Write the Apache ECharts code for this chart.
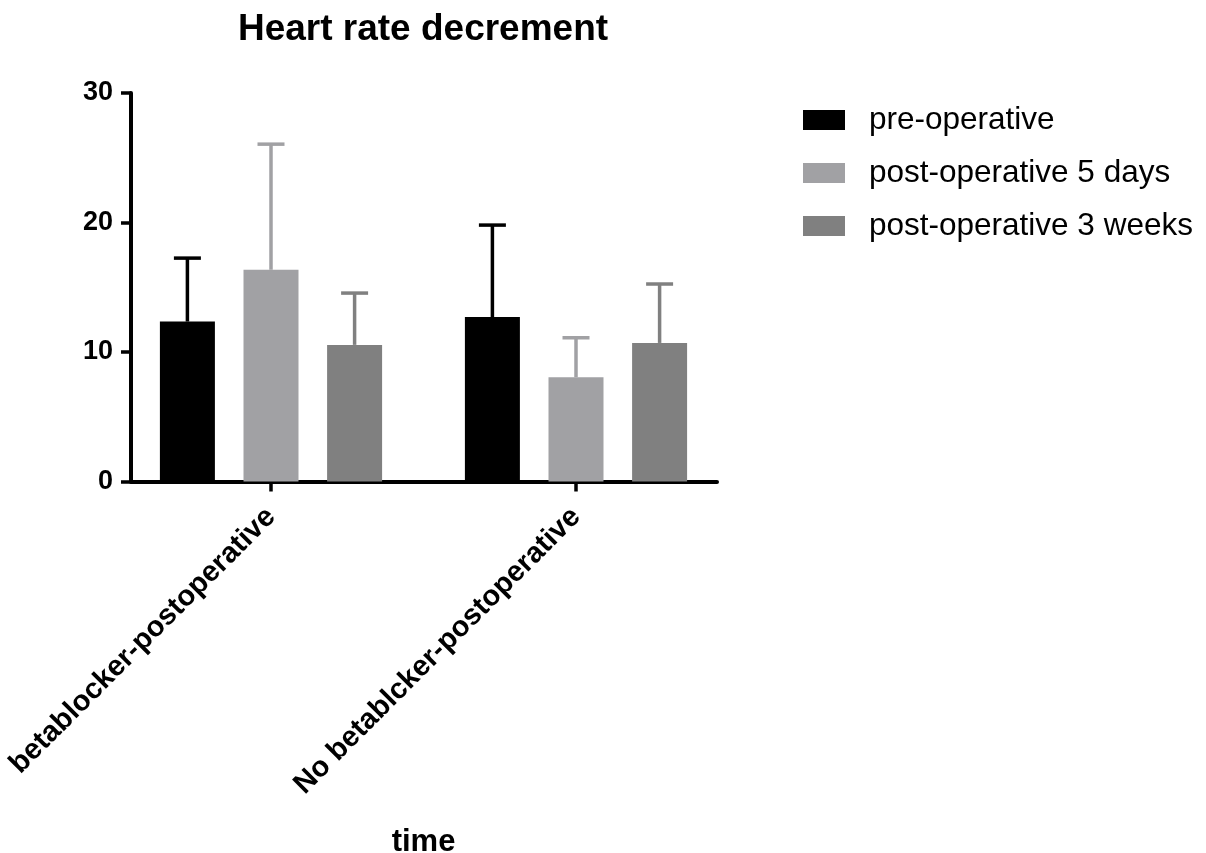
<!DOCTYPE html>
<html>
<head>
<meta charset="utf-8">
<script src="https://cdn.jsdelivr.net/npm/echarts@6/dist/echarts.min.js"></script>
<style>
html,body{margin:0;padding:0;background:#fff;}
#chart{width:1206px;height:853px;}
</style>
</head>
<body>
<div id="chart"></div>
<script>
// ---- data ----
const categories = ['betablocker-postoperative', 'No betablcker-postoperative'];
const seriesNames = ['pre-operative', 'post-operative 5 days', 'post-operative 3 weeks'];
const preMean = [12.35, 12.7];
const preSD = [4.9, 7.1];
const post5Mean = [16.35, 8.05];
const post5SD = [9.7, 3.05];
const post3wMean = [10.55, 10.7];
const post3wSD = [4.0, 4.55];
const yTicks = [0, 10, 20, 30];

// ---- styles ----
const colors = ['#000000', '#a1a1a4', '#808080'];
const FONT = '"Liberation Sans", Arial, Helvetica, sans-serif';
const barWidth = 55;
const barGapRatio = 0.52;
const capWidth = 27;
const errLineWidth = 3.5;

const means = [preMean, post5Mean, post3wMean];
const sds = [preSD, post5SD, post3wSD];
const step = barWidth * (1 + barGapRatio);
const offsets = [-step, 0, step];

function errRender(si) {
  return function (params, api) {
    const x = api.value(0);
    const base = api.coord([x, api.value(1)]);
    const top = api.coord([x, api.value(2)]);
    const cx = base[0] + offsets[si];
    const st = { stroke: colors[si], lineWidth: errLineWidth };
    return {
      type: 'group',
      children: [
        { type: 'line', shape: { x1: cx, y1: base[1], x2: cx, y2: top[1] }, style: st },
        { type: 'line', shape: { x1: cx - capWidth / 2, y1: top[1], x2: cx + capWidth / 2, y2: top[1] }, style: st }
      ]
    };
  };
}

const series = [];
seriesNames.forEach(function (name, si) {
  series.push({
    name: name,
    type: 'bar',
    xAxisIndex: 0,
    yAxisIndex: 0,
    barWidth: barWidth,
    barGap: (barGapRatio * 100) + '%',
    itemStyle: { color: colors[si] },
    data: means[si],
    z: 2
  });
});
seriesNames.forEach(function (name, si) {
  series.push({
    name: name + ' error',
    type: 'custom',
    xAxisIndex: 0,
    yAxisIndex: 0,
    renderItem: errRender(si),
    encode: { x: 0, y: [1, 2] },
    data: categories.map(function (c, i) { return [i, means[si][i], means[si][i] + sds[si][i]]; }),
    z: 3,
    silent: true
  });
});

const chart = echarts.init(document.getElementById('chart'), null, { renderer: 'canvas' });
chart.setOption({
  animation: false,
  backgroundColor: '#ffffff',
  title: {
    text: 'Heart rate decrement',
    left: 423,
    top: 11,
    padding: 0,
    textAlign: 'center',
    textStyle: { fontFamily: FONT, fontWeight: 'bold', fontSize: 37, color: '#000' }
  },
  legend: {
    data: seriesNames,
    orient: 'vertical',
    left: 803,
    top: 104,
    padding: 0,
    itemWidth: 42,
    itemHeight: 20,
    itemGap: 21,
    icon: 'rect',
    textStyle: { fontFamily: FONT, fontSize: 31.5, color: '#000', padding: [5, 0, 0, 19] }
  },
  grid: [
    { left: 118.5, width: 610, top: 93, height: 388.5, containLabel: false, outerBoundsMode: 'none' },
    { left: 131, width: 586, top: 93, height: 388.5, containLabel: false, outerBoundsMode: 'none' }
  ],
  xAxis: [
    {
      type: 'category',
      gridIndex: 0,
      data: categories,
      axisLine: { show: false },
      axisTick: { show: true, alignWithLabel: true, length: 10, lineStyle: { color: '#000', width: 3.5 } },
      axisLabel: {
        rotate: 45,
        margin: 31,
        interval: 0,
        fontFamily: FONT,
        fontWeight: 'bold',
        fontSize: 29,
        color: '#000'
      },
      name: 'time',
      nameLocation: 'middle',
      nameGap: 345,
      nameTextStyle: { fontFamily: FONT, fontWeight: 'bold', fontSize: 31, color: '#000' },
      splitLine: { show: false }
    },
    {
      type: 'value',
      gridIndex: 1,
      min: 0,
      max: 1,
      axisLine: { show: true, onZero: false, lineStyle: { color: '#000', width: 4 } },
      axisTick: { show: false },
      axisLabel: { show: false },
      splitLine: { show: false }
    }
  ],
  yAxis: [
    {
      type: 'value',
      gridIndex: 0,
      min: 0,
      max: 30,
      interval: 10,
      show: false,
      splitLine: { show: false }
    },
    {
      type: 'value',
      gridIndex: 1,
      min: yTicks[0],
      max: yTicks[yTicks.length - 1],
      interval: 10,
      axisLine: { show: true, onZero: false, lineStyle: { color: '#000', width: 4 } },
      axisTick: { show: true, length: 10, lineStyle: { color: '#000', width: 3.5 } },
      axisLabel: { margin: 18, fontFamily: FONT, fontWeight: 'bold', fontSize: 27, color: '#000' },
      splitLine: { show: false }
    }
  ],
  series: series
});
</script>
</body>
</html>
